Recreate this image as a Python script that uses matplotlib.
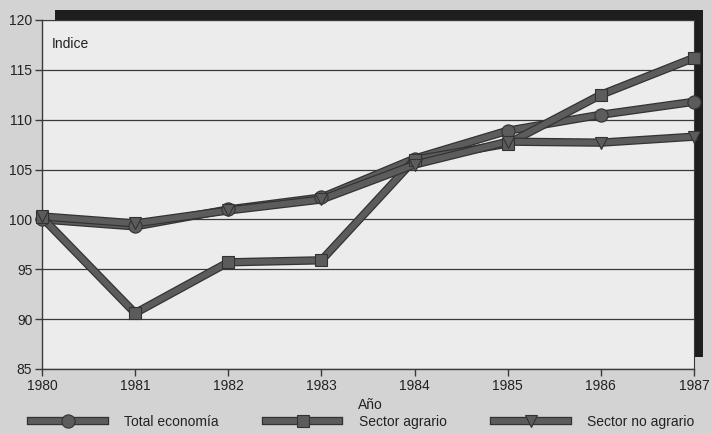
import matplotlib
matplotlib.use("Agg")
import matplotlib.pyplot as plt
import matplotlib.patheffects as pe
from matplotlib.patches import Rectangle
from matplotlib.legend_handler import HandlerTuple

# data
years = [1980, 1981, 1982, 1983, 1984, 1985, 1986, 1987]
total_economia = [100.0, 99.3, 101.0, 102.2, 106.1, 108.9, 110.5, 111.8]
sector_agrario = [100.2, 90.6, 95.7, 95.9, 106.0, 107.6, 112.5, 116.2]
sector_no_agrario = [100.3, 99.6, 100.9, 102.0, 105.5, 107.8, 107.7, 108.3]
yticks = [85, 90, 95, 100, 105, 110, 115, 120]

plt.rcParams['font.family'] = ['Liberation Sans', 'DejaVu Sans']
plt.rcParams['font.size'] = 10

fig = plt.figure(figsize=(7.11, 4.34), dpi=100)
fig.patch.set_facecolor('#d3d3d3')

# black drop shadow behind the plot frame (top / right)
fig.patches.append(Rectangle((55/711, (434-357)/434), (703-55)/711, (357-10)/434,
                             transform=fig.transFigure, facecolor='#1e1e1e',
                             edgecolor='none', zorder=0))

ax = fig.add_axes([42/711, (434-369)/434, (694-42)/711, (369-20)/434])
ax.set_facecolor('#ececec')
ax.set_zorder(1)

line_col = '#5c5c5c'
edge_col = '#333333'
outline = [pe.Stroke(linewidth=6, foreground=edge_col), pe.Normal()]

series = [
    (total_economia, 'o', 9.5, 'Total economía'),
    (sector_agrario, 's', 9, 'Sector agrario'),
    (sector_no_agrario, 'v', 9, 'Sector no agrario'),
]
handles = []
labels = []
for vals, mk, ms, lab in series:
    ln, = ax.plot(years, vals, color=line_col, lw=4.2, clip_on=False, zorder=3,
                  solid_joinstyle='miter', path_effects=outline)
    pts, = ax.plot(years, vals, linestyle='none', marker=mk, markersize=ms,
                   markerfacecolor=line_col, markeredgecolor=edge_col,
                   markeredgewidth=0.8, clip_on=False, zorder=4)
    handles.append((ln, pts))
    labels.append(lab)

ax.set_xlim(1980, 1987)
ax.set_ylim(85, 120)
ax.set_xticks(years)
ax.set_yticks(yticks)
ax.yaxis.grid(True, color='#3a3a3a', lw=0.9)
ax.set_axisbelow(True)
ax.tick_params(axis='both', colors='#3a3a3a', labelcolor='#222222', labelsize=10,
               length=5, width=1, pad=2)
for s in ['left', 'bottom']:
    ax.spines[s].set_color('#3a3a3a')
    ax.spines[s].set_linewidth(1)
for s in ['top', 'right']:
    ax.spines[s].set_color('#3a3a3a')
    ax.spines[s].set_linewidth(0.8)

ax.text(0.015, 0.95, 'Indice', transform=ax.transAxes, ha='left', va='top',
        fontsize=10, color='#222222')
fig.text(370/711, (434-405)/434, 'Año', ha='center', va='center', fontsize=10,
         color='#222222')

fig.legend(handles=handles, labels=labels, loc='center left',
           bbox_to_anchor=(24/711, 12/434),
           handler_map={tuple: HandlerTuple(ndivide=1, pad=0)},
           ncol=3, frameon=False, numpoints=1, handlelength=5.3,
           handletextpad=1.4, columnspacing=3.4, borderpad=0, fontsize=10,
           labelcolor='#222222')

fig.savefig('out.png', dpi=100, facecolor=fig.get_facecolor())
